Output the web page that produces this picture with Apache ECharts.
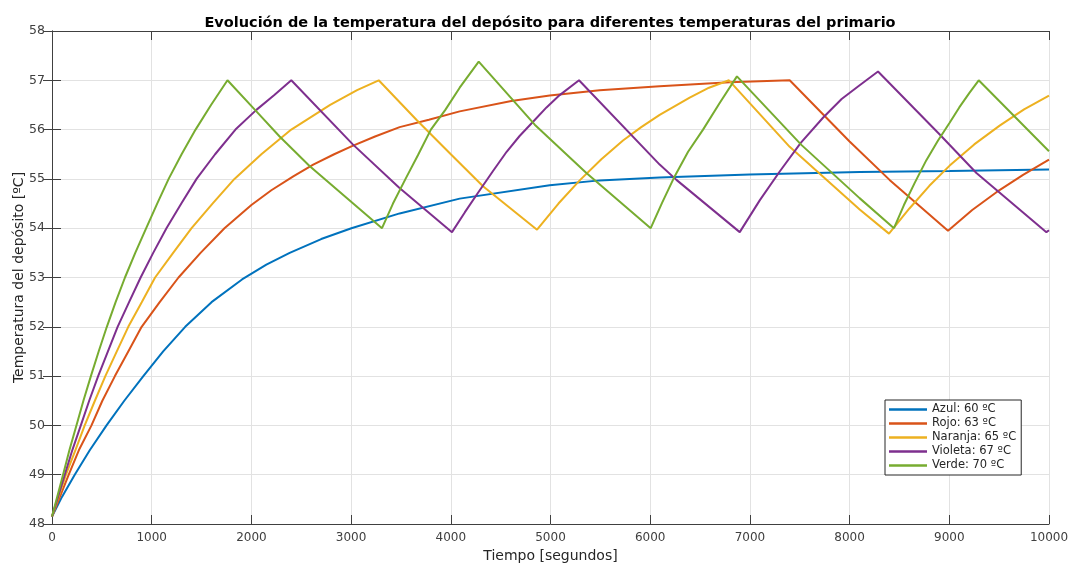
<!DOCTYPE html>
<html>
<head>
<meta charset="utf-8">
<script src="https://cdn.jsdelivr.net/npm/echarts@6/dist/echarts.min.js"></script>
<style>
html,body{margin:0;padding:0;background:#fff;}
#chart{width:1070px;height:565px;}
</style>
</head>
<body>
<div id="chart"></div>
<script>
// Series names (legend labels)
const seriesNames = ['Azul: 60 ºC', 'Rojo: 63 ºC', 'Naranja: 65 ºC', 'Violeta: 67 ºC', 'Verde: 70 ºC'];

// [time (s), temperature (ºC)]
const azul = [[0,48.15],[100,48.55],[228,49],[380,49.5],[547,50],[725,50.5],[916,51],[1115,51.5],[1336,52],[1600,52.5],[1906,52.96],[2150,53.26],[2384,53.5],[2700,53.78],[3003,54.0],[3487,54.3],[4089,54.6],[4992,54.87],[5493,54.97],[6095,55.03],[6998,55.09],[8101,55.14],[9004,55.16],[10000,55.19]];
const rojo = [[0,48.15],[168,49],[270,49.5],[396,50],[505,50.5],[631,51],[765,51.5],[899,52],[1080,52.5],[1269,53],[1490,53.5],[1730,54],[2000,54.47],[2200,54.77],[2420,55.05],[2620,55.29],[2830,55.5],[3003,55.66],[3240,55.86],[3487,56.05],[3780,56.2],[4089,56.37],[4607,56.58],[4992,56.69],[5493,56.8],[6095,56.88],[6797,56.96],[7399,57.0],[8000,55.76],[8401,54.98],[8987,53.95],[9230,54.37],[9473,54.73],[9740,55.08],[10000,55.39]];
const naranja = [[0,48.15],[140,49],[235,49.5],[328,50],[430,50.5],[535,51],[650,51.5],[765,52],[900,52.5],[1034,53],[1215,53.5],[1400,54],[1610,54.5],[1830,55],[2100,55.5],[2400,56],[2790,56.5],[3060,56.8],[3277,57],[3655,56.2],[4000,55.5],[4323,54.85],[4865,53.97],[5080,54.5],[5293,54.97],[5510,55.4],[5727,55.78],[5910,56.05],[6095,56.3],[6396,56.65],[6590,56.85],[6790,57.0],[7399,55.65],[8101,54.38],[8395,53.89],[8600,54.4],[8800,54.86],[9004,55.27],[9250,55.7],[9505,56.08],[9750,56.41],[10000,56.69]];
const violeta = [[0,48.15],[128,49],[204,49.5],[289,50],[373,50.5],[463,51],[561,51.5],[658,52],[773,52.5],[889,53],[1015,53.5],[1148,54],[1297,54.5],[1450,55],[1636,55.5],[1840,56],[2050,56.4],[2230,56.7],[2400,57.0],[3017,55.7],[3483,54.82],[4012,53.92],[4140,54.32],[4273,54.72],[4420,55.15],[4560,55.55],[4690,55.87],[4825,56.16],[4960,56.45],[5092,56.7],[5286,57.0],[6095,55.29],[6263,54.98],[6898,53.92],[7100,54.57],[7299,55.15],[7510,55.73],[7733,56.24],[7920,56.62],[8101,56.9],[8285,57.18],[8904,55.9],[9272,55.12],[9974,53.92],[10000,53.96]];
const verde = [[0,48.15],[111,49],[175,49.5],[245,50],[315,50.5],[390,51],[468,51.5],[550,52],[638,52.5],[732,53],[835,53.5],[945,54],[1055,54.5],[1170,55],[1300,55.5],[1440,56],[1595,56.5],[1760,57],[2050,56.37],[2283,55.86],[2583,55.26],[3310,54.0],[3420,54.5],[3546,55.0],[3670,55.48],[3800,56.0],[3945,56.4],[4089,56.85],[4280,57.38],[4842,56.1],[5360,55.12],[6005,54.0],[6120,54.52],[6245,55.05],[6380,55.55],[6530,56.0],[6700,56.55],[6870,57.08],[7516,55.69],[8100,54.61],[8445,54.0],[8545,54.47],[8653,54.92],[8770,55.38],[8887,55.78],[9000,56.13],[9100,56.45],[9200,56.74],[9295,57.0],[10000,55.56]];

const seriesData = [azul, rojo, naranja, violeta, verde];
const colors = ['#0072BD', '#D95319', '#EDB120', '#7E2F8E', '#77AC30'];

const FONT = 'DejaVu Sans';
const axisColor = '#404040';

const chart = echarts.init(document.getElementById('chart'), null, {renderer: 'canvas'});

const baseX = {
  type: 'value', min: 0, max: 10000, interval: 1000,
  axisLine: {show: true, lineStyle: {color: axisColor, width: 1}},
  axisTick: {show: true, inside: true, length: 9, lineStyle: {color: axisColor}},
};
const baseY = {
  type: 'value', min: 48, max: 58, interval: 1,
  axisLine: {show: true, lineStyle: {color: axisColor, width: 1}},
  axisTick: {show: true, inside: true, length: 9, lineStyle: {color: axisColor}},
};

const option = {
  animation: false,
  backgroundColor: '#ffffff',
  color: colors,
  title: {
    text: 'Evolución de la temperatura del depósito para diferentes temperaturas del primario',
    left: 545, top: 11, textAlign: 'center',
    textStyle: {fontFamily: FONT, fontSize: 14.5, fontWeight: 'bold', color: '#000'}
  },
  grid: {left: 52, right: 21, top: 31, bottom: 41, containLabel: false, outerBoundsMode: 'none'},
  legend: {
    data: seriesNames,
    orient: 'vertical',
    left: 885, top: 400,
    icon: 'rect',
    itemWidth: 38, itemHeight: 2.5, itemGap: 1,
    padding: [3, 5, 3, 4],
    borderColor: '#262626', borderWidth: 1, borderRadius: 0,
    backgroundColor: '#ffffff',
    textStyle: {fontFamily: FONT, fontSize: 11.5, color: '#262626', lineHeight: 13}
  },
  xAxis: [
    Object.assign({}, baseX, {
      position: 'bottom',
      name: 'Tiempo [segundos]', nameLocation: 'middle', nameGap: 23,
      nameTextStyle: {fontFamily: FONT, fontSize: 14, color: '#262626'},
      axisLabel: {color: axisColor, fontFamily: FONT, fontSize: 12, margin: 8, formatter: v => String(v)},
      splitLine: {show: true, lineStyle: {color: '#e2e2e2', width: 1}}
    }),
    Object.assign({}, baseX, {
      position: 'top',
      axisLabel: {show: false},
      splitLine: {show: false}
    })
  ],
  yAxis: [
    Object.assign({}, baseY, {
      position: 'left',
      name: 'Temperatura del depósito [ºC]', nameLocation: 'middle', nameGap: 26,
      nameMoveOverlap: false,
      nameTextStyle: {fontFamily: FONT, fontSize: 14, color: '#262626'},
      axisLabel: {color: axisColor, fontFamily: FONT, fontSize: 12.5, margin: 7, formatter: v => String(v)},
      splitLine: {show: true, lineStyle: {color: '#e2e2e2', width: 1}}
    }),
    Object.assign({}, baseY, {
      position: 'right',
      axisLabel: {show: false},
      splitLine: {show: false}
    })
  ],
  series: seriesNames.map((name, i) => ({
    name: name,
    type: 'line',
    xAxisIndex: 0, yAxisIndex: 0,
    data: seriesData[i],
    symbol: 'none',
    smooth: false,
    lineStyle: {width: 2, color: colors[i]},
    itemStyle: {color: colors[i]},
    emphasis: {disabled: true},
    z: 2 + i
  }))
};

chart.setOption(option);
</script>
</body>
</html>
